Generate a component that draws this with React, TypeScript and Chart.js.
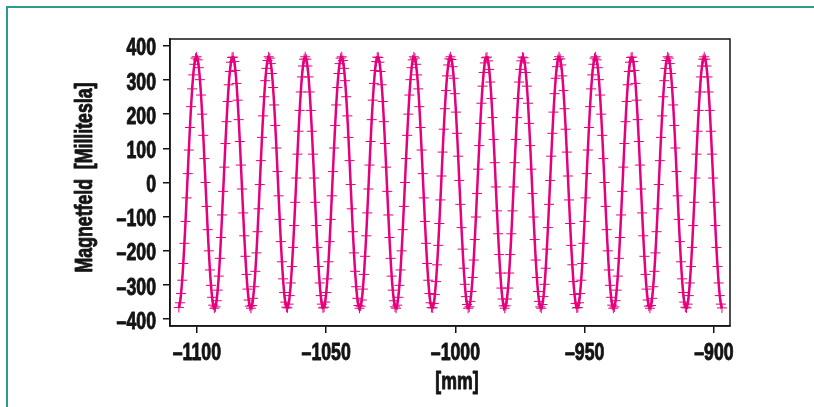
import { useEffect, useRef } from 'react';
import { Chart, registerables } from 'chart.js';

Chart.register(...registerables);

// sampling grid of the measurement positions [mm]
const xStart = -1106.97;
const xStep = 0.42869;

// measured magnetic field [mT], one value per sample position
const fieldValues = [
  -366, -352, -325, -286, -237, -178, -114, -45, 26, 95,
  161, 222, 274, 315, 346, 364, 368, 359, 336, 301,
  256, 200, 138, 70, 0, -70, -138, -200, -256, -301,
  -336, -359, -368, -364, -346, -315, -274, -222, -161, -95,
  -26, 45, 114, 178, 237, 286, 325, 352, 366, 367,
  354, 328, 290, 241, 184, 120, 51, -19, -89, -156,
  -216, -269, -312, -344, -362, -368, -360, -339, -305, -260,
  -206, -144, -77, -6, 64, 132, 195, 251, 298, 334,
  357, 368, 364, 348, 319, 278, 227, 167, 101, 32,
  -39, -108, -173, -232, -282, -322, -350, -365, -367, -356,
  -331, -294, -246, -190, -126, -58, 13, 83, 150, 211,
  265, 309, 341, 361, 368, 361, 341, 309, 265, 211,
  150, 83, 13, -58, -126, -190, -246, -294, -331, -356,
  -367, -365, -350, -322, -282, -232, -173, -108, -39, 32,
  101, 167, 227, 278, 319, 348, 364, 368, 357, 334,
  298, 251, 195, 132, 64, -6, -77, -144, -206, -260,
  -305, -339, -360, -368, -362, -344, -312, -269, -216, -156,
  -89, -19, 51, 120, 184, 241, 290, 328, 354, 367,
  366, 352, 325, 286, 237, 178, 114, 45, -26, -95,
  -161, -222, -274, -315, -346, -364, -368, -359, -336, -301,
  -256, -200, -138, -70, 0, 70, 138, 200, 256, 301,
  336, 359, 368, 364, 346, 315, 274, 222, 161, 95,
  26, -45, -114, -178, -237, -286, -325, -352, -366, -367,
  -354, -328, -290, -241, -184, -120, -51, 19, 89, 156,
  216, 269, 312, 344, 362, 368, 360, 339, 305, 260,
  206, 144, 77, 6, -64, -132, -195, -251, -298, -334,
  -357, -368, -364, -348, -319, -278, -227, -167, -101, -32,
  39, 108, 173, 232, 282, 322, 350, 365, 367, 356,
  331, 294, 246, 190, 126, 58, -13, -83, -150, -211,
  -265, -309, -341, -361, -368, -361, -341, -309, -265, -211,
  -150, -83, -13, 58, 126, 190, 246, 294, 331, 356,
  367, 365, 350, 322, 282, 232, 173, 108, 39, -32,
  -101, -167, -227, -278, -319, -348, -364, -368, -357, -334,
  -298, -251, -195, -132, -64, 6, 77, 144, 206, 260,
  305, 339, 360, 368, 362, 344, 312, 269, 216, 156,
  89, 19, -51, -120, -184, -241, -290, -328, -354, -367,
  -366, -352, -325, -286, -237, -178, -114, -45, 26, 95,
  161, 222, 274, 315, 346, 364, 368, 359, 336, 301,
  256, 200, 138, 70, 0, -70, -138, -200, -256, -301,
  -336, -359, -368, -364, -346, -315, -274, -222, -161, -95,
  -26, 45, 114, 178, 237, 286, 325, 352, 366, 367,
  354, 328, 290, 241, 184, 120, 51, -19, -89, -156,
  -216, -269, -312, -344, -362, -368, -360, -339, -305, -260,
  -206, -144, -77, -6, 64, 132, 195, 251, 298, 334,
  357, 368, 364, 348, 319, 278, 227, 167, 101, 32,
  -39, -108, -173, -232, -282, -322, -350, -365, -367, -356,
  -331, -294, -246, -190, -126, -58, 13, 83, 150, 211,
  265, 309, 341, 361, 368, 361, 341, 309, 265, 211,
  150, 83, 13, -58, -126, -190, -246, -294, -331, -356,
  -367,
];

const xTickValues = [-1100, -1050, -1000, -950, -900];
const yTickValues = [-400, -300, -200, -100, 0, 100, 200, 300, 400];
const xTitle = '[mm]';
const yTitle = 'Magnetfeld  [Millitesla]';

const FONT = "'Liberation Sans', Arial, Helvetica, sans-serif";
const FONT_SIZE = 23;
const NARROW = 0.77; // horizontal condensing of the label type
const MAGENTA = '#e5007d';
const INK = '#141414';

export default function App() {
  const ref = useRef<HTMLCanvasElement>(null);

  useEffect(() => {
    const canvas = ref.current;
    if (!canvas) return;

    const points = fieldValues.map((y, i) => ({ x: +(xStart + i * xStep).toFixed(3), y }));
    const fmt = (v: number) => (v < 0 ? '\u2013' + Math.abs(v) : String(v));

    const boxPlugin = {
      id: 'plotBox',
      afterDraw(chart: any) {
        const { ctx, chartArea: a } = chart;
        ctx.save();
        ctx.strokeStyle = INK;
        ctx.lineWidth = 1.5;
        ctx.strokeRect(a.left, a.top, a.right - a.left, a.bottom - a.top);
        ctx.restore();
      },
    };

    const heavyText = (ctx: CanvasRenderingContext2D, text: string) => {
      ctx.fillText(text, 0, 0);
      ctx.strokeText(text, 0, 0);
    };

    // condensed heavy labels, positioned by the chart's own scales
    const labelPlugin = {
      id: 'narrowLabels',
      afterDraw(chart: any) {
        const { ctx, chartArea: a } = chart;
        const xs = chart.scales.x;
        const ys = chart.scales.y;
        ctx.save();
        ctx.fillStyle = INK;
        ctx.strokeStyle = INK;
        ctx.lineWidth = 0.9;
        ctx.lineJoin = 'round';
        ctx.font = `bold ${FONT_SIZE}px ${FONT}`;
        ctx.textBaseline = 'alphabetic';

        // y tick labels
        ctx.textAlign = 'right';
        for (const v of yTickValues) {
          const py = ys.getPixelForValue(v);
          ctx.save();
          ctx.translate(a.left - 14, py + 9.5);
          ctx.scale(NARROW, 1);
          heavyText(ctx, fmt(v));
          ctx.restore();
        }

        // x tick labels
        ctx.textAlign = 'center';
        for (const v of xTickValues) {
          const px = xs.getPixelForValue(v);
          ctx.save();
          ctx.translate(px, a.bottom + 33.5);
          ctx.scale(NARROW, 1);
          heavyText(ctx, fmt(v));
          ctx.restore();
        }

        // x title
        ctx.save();
        ctx.translate((a.left + a.right) / 2 + 7, a.bottom + 62.5);
        ctx.scale(NARROW, 1);
        heavyText(ctx, xTitle);
        ctx.restore();

        // y title
        ctx.save();
        ctx.translate(a.left - 78, (a.top + a.bottom) / 2 - 5);
        ctx.rotate(-Math.PI / 2);
        ctx.scale(NARROW, 1);
        heavyText(ctx, yTitle);
        ctx.restore();

        ctx.restore();
      },
    };

    const chart = new Chart(canvas, {
      type: 'line',
      data: {
        datasets: [
          {
            data: points,
            borderColor: MAGENTA,
            borderWidth: 2.5,
            tension: 0.3,
            pointStyle: 'cross',
            pointRadius: 5,
            pointHoverRadius: 5,
            pointBorderWidth: 1,
            pointBorderColor: MAGENTA,
            pointBackgroundColor: MAGENTA,
          },
        ],
      },
      options: {
        responsive: false,
        animation: false,
        events: [],
        layout: { padding: { left: 0, top: 39, right: 84, bottom: 0 } },
        plugins: { legend: { display: false }, tooltip: { enabled: false } },
        scales: {
          x: {
            type: 'linear',
            min: -1110.4,
            max: -893.8,
            afterBuildTicks: (s: any) => {
              s.ticks = xTickValues.map((v) => ({ value: v }));
            },
            afterFit: (s: any) => {
              s.height = 81;
            },
            ticks: { display: false, autoSkip: false },
            grid: {
              drawOnChartArea: false,
              drawTicks: true,
              tickLength: 7,
              color: INK,
              lineWidth: 1.5,
            },
            border: { display: true, color: INK, width: 1.5 },
            title: { display: false, text: xTitle },
          },
          y: {
            type: 'linear',
            min: -420,
            max: 420,
            afterBuildTicks: (s: any) => {
              s.ticks = yTickValues.map((v) => ({ value: v }));
            },
            afterFit: (s: any) => {
              s.width = 170;
            },
            ticks: { display: false, autoSkip: false },
            grid: {
              drawOnChartArea: false,
              drawTicks: true,
              tickLength: 7,
              color: INK,
              lineWidth: 1.5,
            },
            border: { display: true, color: INK, width: 1.5 },
            title: { display: false, text: yTitle },
          },
        },
      },
      plugins: [boxPlugin, labelPlugin],
    });

    return () => chart.destroy();
  }, []);

  return (
    <div
      style={{
        position: 'absolute',
        left: 0,
        top: 0,
        width: 814,
        height: 407,
        overflow: 'hidden',
        background: '#ffffff',
      }}
    >
      <div
        style={{
          position: 'absolute',
          left: 6,
          top: 6,
          width: 900,
          height: 500,
          border: '2px solid #2a9c8c',
        }}
      />
      <canvas
        ref={ref}
        width={814}
        height={407}
        style={{ position: 'absolute', left: 0, top: 0 }}
      />
    </div>
  );
}
